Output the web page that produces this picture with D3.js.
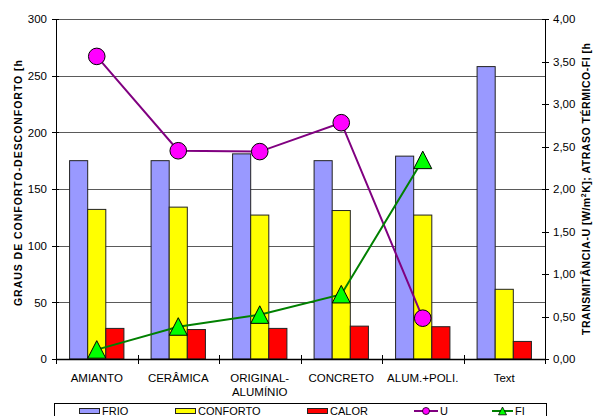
<!DOCTYPE html>
<html>
<head>
<meta charset="utf-8">
<script src="https://cdn.jsdelivr.net/npm/d3@7"></script>
<style>
  html, body { margin: 0; padding: 0; background: #fff; }
  svg { display: block; font-family: Arial, "Liberation Sans", sans-serif; }
</style>
</head>
<body>
<svg id="chart" width="599" height="416"></svg>
<script>
// Categories (cover types) and series values
const categories = ["AMIANTO", "CERÂMICA", "ORIGINAL-\nALUMÍNIO", "CONCRETO", "ALUM.+POLI.", "Text"];
const frio     = [175, 175, 181, 175, 179, 258];
const conforto = [132, 134, 127, 131, 127, 61.5];
const calor    = [27, 26, 27, 29, 28.5, 15.5];
const uValues  = [3.56, 2.45, 2.44, 2.78, 0.48, null];
const fiValues = [0.11, 0.38, 0.52, 0.76, 2.34, null];

const leftTicks  = [0, 50, 100, 150, 200, 250, 300];
const rightTicks = [0, 0.5, 1, 1.5, 2, 2.5, 3, 3.5, 4];

const svg = d3.select("#chart");
const plot = { left: 56, right: 545, top: 19, bottom: 359 };

const x = d3.scaleBand().domain(d3.range(categories.length)).range([plot.left, plot.right]);
const yL = d3.scaleLinear().domain([0, 300]).range([plot.bottom, plot.top]);
const yR = d3.scaleLinear().domain([0, 4]).range([plot.bottom, plot.top]);

// Bars: 3 per category, gap = 150% of bar width
const barW = x.bandwidth() / 4.5;
const groupOff = (x.bandwidth() - 3 * barW) / 2;

const gridColor = "#5a5a5a";

// Horizontal gridlines
svg.append("g").selectAll("line").data(leftTicks.filter(d => d > 0)).join("line")
  .attr("x1", plot.left).attr("x2", plot.right)
  .attr("y1", d => Math.round(yL(d)) + 0.5).attr("y2", d => Math.round(yL(d)) + 0.5)
  .attr("stroke", gridColor).attr("stroke-width", 1);

const series = [
  { name: "FRIO", values: frio, color: "#9999FF" },
  { name: "CONFORTO", values: conforto, color: "#FFFF00" },
  { name: "CALOR", values: calor, color: "#FF0000" }
];

series.forEach((s, si) => {
  svg.append("g").selectAll("rect").data(s.values).join("rect")
    .attr("x", (d, i) => x(i) + groupOff + si * barW)
    .attr("y", d => yL(d))
    .attr("width", barW)
    .attr("height", d => yL(0) - yL(d))
    .attr("fill", s.color)
    .attr("stroke", "#222").attr("stroke-width", 1);
});

// Axes
const leftAxis = d3.axisLeft(yL).tickValues(leftTicks).tickSize(0).tickPadding(9).tickFormat(d3.format("d"));
const gl = svg.append("g").attr("transform", `translate(${plot.left},0)`).call(leftAxis);
gl.select(".domain").attr("stroke", "#000");
gl.selectAll("text").attr("font-size", 11.5).attr("fill", "#000").attr("font-family", "Arial, 'Liberation Sans', sans-serif");

const rightAxis = d3.axisRight(yR).tickValues(rightTicks).tickSize(0).tickPadding(8)
  .tickFormat(d => d3.format(".2f")(d).replace(".", ","));
const gr = svg.append("g").attr("transform", `translate(${plot.right},0)`).call(rightAxis);
gr.select(".domain").attr("stroke", "#000");
gr.selectAll("text").attr("font-size", 11.5).attr("fill", "#000").attr("font-family", "Arial, 'Liberation Sans', sans-serif");

// Cross tick marks on both value axes
svg.append("g").selectAll("line").data(leftTicks).join("line")
  .attr("x1", plot.left - 4).attr("x2", plot.left + 3)
  .attr("y1", d => Math.round(yL(d)) + 0.5).attr("y2", d => Math.round(yL(d)) + 0.5)
  .attr("stroke", "#000");
svg.append("g").selectAll("line").data(rightTicks).join("line")
  .attr("x1", plot.right - 3).attr("x2", plot.right + 4)
  .attr("y1", d => Math.round(yR(d)) + 0.5).attr("y2", d => Math.round(yR(d)) + 0.5)
  .attr("stroke", "#000");

// Category axis
svg.append("line").attr("x1", plot.left).attr("x2", plot.right)
  .attr("y1", plot.bottom + 0.5).attr("y2", plot.bottom + 0.5).attr("stroke", "#000").attr("stroke-width", 1.5);
svg.append("g").selectAll("line").data(d3.range(categories.length + 1)).join("line")
  .attr("x1", i => Math.round(i < categories.length ? x(i) : plot.right) + 0.5)
  .attr("x2", i => Math.round(i < categories.length ? x(i) : plot.right) + 0.5)
  .attr("y1", plot.bottom - 4).attr("y2", plot.bottom + 5)
  .attr("stroke", "#000");

const xl = svg.append("g").selectAll("text").data(categories).join("text")
  .attr("x", (d, i) => x(i) + x.bandwidth() / 2)
  .attr("y", 382)
  .attr("text-anchor", "middle")
  .attr("font-size", 11.5)
  .attr("fill", "#000");
xl.each(function(d) {
  const lines = d.split("\n");
  d3.select(this).selectAll("tspan").data(lines).join("tspan")
    .attr("x", d3.select(this).attr("x"))
    .attr("dy", (l, k) => k === 0 ? 0 : 14)
    .text(l => l);
});

// Lines with markers
const line = d3.line()
  .defined(d => d.v != null)
  .x(d => x(d.i) + x.bandwidth() / 2)
  .y(d => yR(d.v));

const uPts = uValues.map((v, i) => ({ v, i }));
const fiPts = fiValues.map((v, i) => ({ v, i }));

svg.append("path").datum(uPts).attr("d", line)
  .attr("fill", "none").attr("stroke", "#800080").attr("stroke-width", 2);
svg.append("path").datum(fiPts).attr("d", line)
  .attr("fill", "none").attr("stroke", "#008000").attr("stroke-width", 2);

svg.append("g").selectAll("circle").data(uPts.filter(d => d.v != null)).join("circle")
  .attr("cx", d => x(d.i) + x.bandwidth() / 2)
  .attr("cy", d => yR(d.v))
  .attr("r", 8.3)
  .attr("fill", "#FF00FF").attr("stroke", "#000").attr("stroke-width", 1);

const tri = (cx, cy, s) => `M${cx},${cy - s}L${cx + s},${cy + s * 0.95}L${cx - s},${cy + s * 0.95}Z`;
svg.append("g").selectAll("path").data(fiPts.filter(d => d.v != null)).join("path")
  .attr("d", d => tri(x(d.i) + x.bandwidth() / 2, yR(d.v), 9))
  .attr("fill", "#00FF00").attr("stroke", "#000").attr("stroke-width", 1);

// Axis titles
svg.append("text")
  .attr("transform", "translate(22,306) rotate(-90)")
  .attr("font-size", 10.5).attr("font-weight", "bold").attr("fill", "#000")
  .attr("textLength", 246).attr("lengthAdjust", "spacing")
  .text("GRAUS DE CONFORTO-DESCONFORTO [h");

const rt = svg.append("text")
  .attr("transform", "translate(590,335) rotate(-90)")
  .attr("font-size", 10.5).attr("font-weight", "bold").attr("fill", "#000")
  .attr("textLength", 292).attr("lengthAdjust", "spacing");
rt.append("tspan").text("TRANSMITÂNCIA-U [W/m");
rt.append("tspan").attr("font-size", 7).attr("dy", -4).text("2");
rt.append("tspan").attr("dy", 4).text("K]; ATRASO TÉRMICO-FI [h");

// Legend
const lg = svg.append("g");
lg.append("rect").attr("x", 54.5).attr("y", 403.5).attr("width", 492).attr("height", 30)
  .attr("fill", "#fff").attr("stroke", "#000");

const barLegend = [
  { name: "FRIO", color: "#9999FF", x: 79 },
  { name: "CONFORTO", color: "#FFFF00", x: 175 },
  { name: "CALOR", color: "#FF0000", x: 307 }
];
barLegend.forEach(b => {
  lg.append("rect").attr("x", b.x + 0.5).attr("y", 408.5).attr("width", 20).attr("height", 5)
    .attr("fill", b.color).attr("stroke", "#222");
  lg.append("text").attr("x", b.x + 23).attr("y", 415).attr("font-size", 11).text(b.name);
});

lg.append("line").attr("x1", 414).attr("x2", 438).attr("y1", 411).attr("y2", 411)
  .attr("stroke", "#800080").attr("stroke-width", 2);
lg.append("circle").attr("cx", 426).attr("cy", 411).attr("r", 3.5)
  .attr("fill", "#FF00FF").attr("stroke", "#000").attr("stroke-width", 0.8);
lg.append("text").attr("x", 440).attr("y", 415).attr("font-size", 11).text("U");

lg.append("line").attr("x1", 492).attr("x2", 513).attr("y1", 411).attr("y2", 411)
  .attr("stroke", "#008000").attr("stroke-width", 2);
lg.append("path").attr("d", tri(502.5, 411, 4))
  .attr("fill", "#00FF00").attr("stroke", "#000").attr("stroke-width", 0.8);
lg.append("text").attr("x", 515).attr("y", 415).attr("font-size", 11).text("FI");
</script>
</body>
</html>
